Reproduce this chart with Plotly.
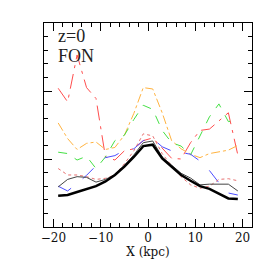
import plotly.graph_objects as go

x_kpc = [-19, -17, -15, -13, -11, -9, -7, -5, -3, -1, 1, 3, 5, 7, 9, 11, 13, 15, 17, 19]

black_thick = [0.46, 0.47, 0.515, 0.555, 0.60, 0.67, 0.765, 0.89, 1.03, 1.19, 1.21, 1.01, 0.89, 0.765, 0.68, 0.60, 0.56, 0.495, 0.42, 0.41]
gray_thin = [0.59, 0.70, 0.74, 0.73, 0.66, 0.70, 0.77, 0.90, 1.06, 1.24, 1.265, 1.03, 0.91, 0.79, 0.72, 0.62, 0.63, 0.63, 0.63, 0.53]
red_dotted = [0.86, 0.765, 0.765, 0.74, 0.70, 0.716, 0.765, 0.93, 1.12, 1.37, 1.34, 1.08, 0.90, 0.74, 0.62, 0.57, 0.60, 0.70, 0.71, 0.68]
blue_dashed = [0.60, 0.53, 0.64, 0.76, 0.90, 1.02, 1.05, 1.13, 1.15, 1.27, 1.30, 1.18, 1.12, 1.10, 1.07, 0.97, 0.83, 0.65, 0.50, 0.47]
green_dashed = [1.10, 1.08, 0.985, 1.04, 0.86, 1.03, 1.27, 1.35, 1.58, 1.79, 1.73, 1.42, 1.24, 1.19, 1.06, 1.35, 1.62, 1.81, 1.55, 1.57]
orange_dashdot = [1.53, 1.30, 1.14, 1.23, 1.25, 1.14, 1.17, 1.35, 1.67, 2.05, 2.03, 1.68, 1.27, 1.15, 1.07, 1.02, 1.08, 1.11, 1.13, 1.20]
red_dashdot = [2.04, 1.84, 2.53, 2.05, 1.89, 1.03, 0.985, 1.12, 1.15, 1.27, 1.31, 1.16, 1.01, 1.00, 1.24, 1.42, 1.44, 1.56, 1.68, 1.06]

x_ticks = [-20, -10, 0, 10, 20]
x_tick_labels = ["\u221220", "\u221210", "0", "10", "20"]

series = [
    (red_dashdot, "#ff4d4d", "longdashdot", 1),
    (orange_dashdot, "#ffb340", "dashdot", 1),
    (green_dashed, "#44e044", "dash", 1),
    (blue_dashed, "#4d4dff", "longdash", 1),
    (red_dotted, "#e87070", "dot", 1),
    (gray_thin, "#444444", "solid", 1),
    (black_thick, "#000000", "solid", 2.5),
]

fig = go.Figure()
for ys, col, dash, w in series:
    fig.add_trace(go.Scatter(x=x_kpc, y=ys, mode="lines",
                             line=dict(color=col, dash=dash, width=w),
                             showlegend=False, hoverinfo="skip"))

axis_common = dict(showline=True, linecolor="black", linewidth=1, mirror="allticks",
                   ticks="inside", ticklen=8, tickcolor="black", tickwidth=1,
                   showgrid=False, zeroline=False, automargin=False)

fig.update_xaxes(range=[-22, 22], tickvals=x_ticks, ticktext=x_tick_labels,
                 minor=dict(ticks="inside", ticklen=4, dtick=2, tick0=0, tickcolor="black", showgrid=False),
                 title=dict(text="X (kpc)", standoff=3, font=dict(size=12, family="DejaVu Serif", color="#111")),
                 tickfont=dict(size=12, family="DejaVu Serif", color="#111"),
                 **axis_common)
fig.update_yaxes(range=[0, 3], tickvals=[0, 1, 2, 3], showticklabels=False,
                 minor=dict(ticks="inside", ticklen=4, dtick=0.2, tick0=0, tickcolor="black", showgrid=False),
                 **axis_common)

fig.add_annotation(text="z=0", xref="paper", yref="paper", x=0.06, y=0.936,
                   xanchor="left", yanchor="middle", showarrow=False,
                   font=dict(size=18, family="Liberation Serif", color="#222"))
fig.add_annotation(text="FON", xref="paper", yref="paper", x=0.06, y=0.838,
                   xanchor="left", yanchor="middle", showarrow=False,
                   font=dict(size=18, family="Liberation Serif", color="#222"))

fig.update_layout(width=273, height=273, margin=dict(l=44, r=21, t=23, b=46),
                  plot_bgcolor="white", paper_bgcolor="white")
fig.write_html("out.html", config={"displayModeBar": False},
               post_script="document.body.style.margin='0px';")
